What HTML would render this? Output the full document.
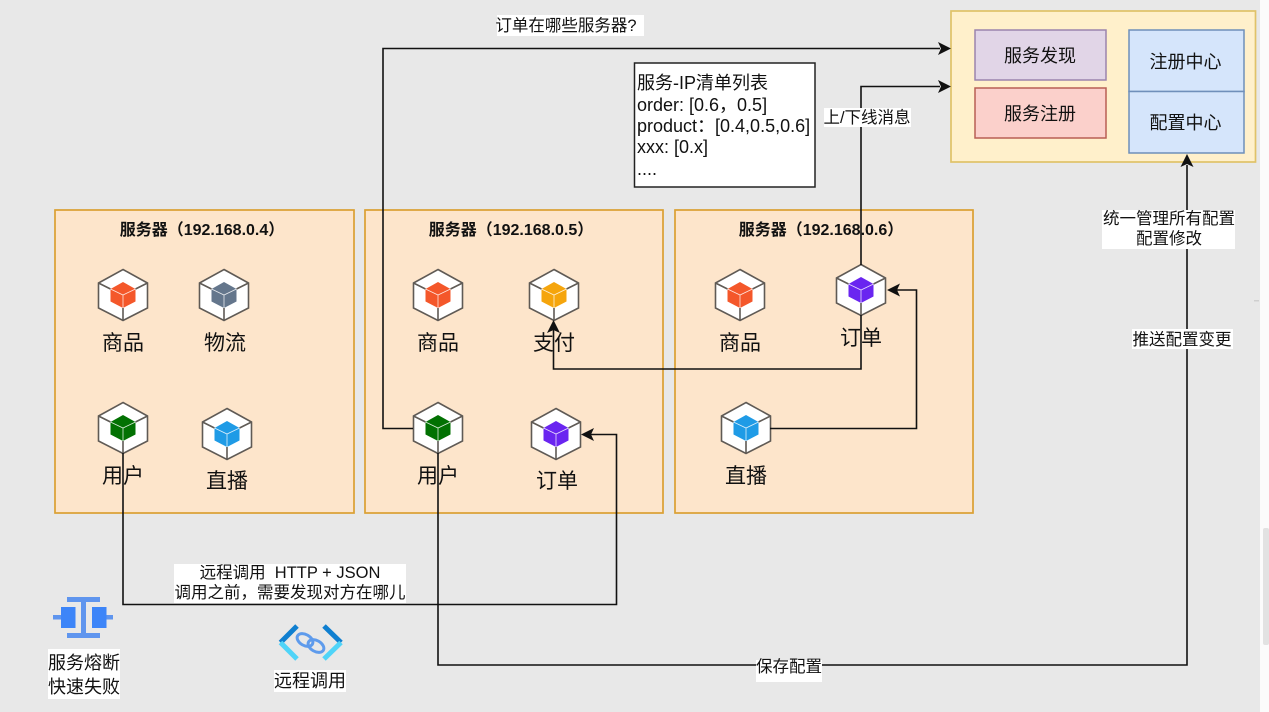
<!DOCTYPE html>
<html lang="zh">
<head>
<meta charset="utf-8">
<title>服务注册与发现</title>
<style>
html,body{margin:0;padding:0;width:1269px;height:712px;overflow:hidden;background:#e8e8e8}
svg{display:block}
text{font-family:"Liberation Sans","Noto Sans CJK SC",sans-serif;fill:#111}
.n{font-size:21px;text-anchor:middle}
.t{font-size:16px;font-weight:bold;text-anchor:middle}
.l{font-size:16.5px;text-anchor:middle}
.b{font-size:18px;text-anchor:middle}
.m{font-size:18px}
.w{fill:#fff}
.e{fill:none;stroke:#111;stroke-width:1.6}
</style>
</head>
<body>
<svg width="1269" height="712" viewBox="0 0 1269 712" xmlns="http://www.w3.org/2000/svg">
<defs>
<g id="c">
<path d="M0-25.5 24.5-12V13L0 25.5-24.5 13V-12Z" fill="#fff" stroke="#5f5a55" stroke-width="1.6"/>
<path d="M0 25.5V13M24.5-12 12.5-6M-24.5-12-12.5-6" fill="none" stroke="#5f5a55" stroke-width="1.6"/>
<path d="M0-13 12.5-6V6.5L0 13-12.5 6.5V-6Z" fill="currentColor"/>
<path d="M-12.5-6 0 0 12.5-6M0 0V13" fill="none" stroke="#fff" stroke-width="0.8" stroke-opacity="0.85"/>
</g>
</defs>

<rect width="1269" height="712" fill="#e8e8e8"/>
<rect x="1260" width="9" height="712" fill="#fbfbfb"/>
<rect x="1263" y="528" width="6" height="117" rx="2" fill="#e2e2e2"/>
<rect x="1254" y="300" width="5" height="1.5" fill="#cfcfcf"/>

<!-- server boxes -->
<rect x="55" y="210" width="299" height="303" fill="#fde5cb" stroke="#dba032" stroke-width="1.7"/>
<rect x="365" y="210" width="298" height="303" fill="#fde5cb" stroke="#dba032" stroke-width="1.7"/>
<rect x="675" y="210" width="298" height="303" fill="#fde5cb" stroke="#dba032" stroke-width="1.7"/>
<text class="t" x="202" y="235">服务器（192.168.0.4）</text>
<text class="t" x="511" y="235">服务器（192.168.0.5）</text>
<text class="t" x="821" y="235">服务器（192.168.0.6）</text>

<!-- top-right group -->
<rect x="951" y="11" width="304.500" height="151" fill="#fff0cb" stroke="#e0c268" stroke-width="1.7"/>
<rect x="975" y="30" width="131" height="50" fill="#e1d5e7" stroke="#9b84ad" stroke-width="1.5"/>
<rect x="975" y="88" width="131" height="50" fill="#fbd0cb" stroke="#b85f55" stroke-width="1.5"/>
<rect x="1129" y="30" width="115" height="61.500" fill="#d5e5fb" stroke="#6f8fba" stroke-width="1.5"/>
<rect x="1129" y="91.500" width="115" height="61.500" fill="#d5e5fb" stroke="#6f8fba" stroke-width="1.5"/>
<text class="b" x="1040" y="62">服务发现</text>
<text class="b" x="1040" y="120">服务注册</text>
<text class="b" x="1185.500" y="68">注册中心</text>
<text class="b" x="1185.500" y="129">配置中心</text>

<!-- list box -->
<rect x="634.500" y="63" width="180.500" height="124" fill="#fff" stroke="#222" stroke-width="1.5"/>
<text class="m" x="637" y="89">服务-IP清单列表</text>
<text class="m" x="637" y="111">order: [0.6，0.5]</text>
<text class="m" x="637" y="132">product：[0.4,0.5,0.6]</text>
<text class="m" x="637" y="153">xxx: [0.x]</text>
<text class="m" x="637" y="175">....</text>

<!-- cubes -->
<use href="#c" x="123" y="295" style="color:#f4572a"/>
<use href="#c" x="224" y="295" style="color:#64768c"/>
<use href="#c" x="123" y="428" style="color:#027102"/>
<use href="#c" x="227" y="434" style="color:#1f9be6"/>
<use href="#c" x="438" y="295" style="color:#f4572a"/>
<use href="#c" x="554" y="295" style="color:#f5a50d"/>
<use href="#c" x="438" y="428" style="color:#027102"/>
<use href="#c" x="556" y="434" style="color:#6a25f0"/>
<use href="#c" x="740" y="295" style="color:#f4572a"/>
<use href="#c" x="861" y="290" style="color:#6a25f0"/>
<use href="#c" x="746" y="428" style="color:#1f9be6"/>

<!-- connectors -->
<path class="e" d="M123 453V604.500H616.500V434.500H590"/>
<path class="e" d="M413 428.500H383V48.500H940"/>
<path class="e" d="M438 453V665H1187V165"/>
<path class="e" d="M861 265V86.500H940"/>
<path class="e" d="M861 315V369H553.500V330"/>
<path class="e" d="M770 428.500H916.500V290H896"/>

<!-- arrowheads -->
<g fill="#111">
<path d="M951 48.500 938 42 941 48.500 938 55Z"/>
<path d="M951 86.500 938 80 941 86.500 938 93Z"/>
<path d="M581 434.500 594 428 591 434.500 594 441Z"/>
<path d="M887 290 900 283.500 897 290 900 296.500Z"/>
<path d="M553.500 320 547 333 553.500 330 560 333Z"/>
<path d="M1187 154 1180.500 167 1187 164 1193.500 167Z"/>
</g>

<!-- node labels -->
<text class="n" x="123" y="350">商品</text>
<text class="n" x="225" y="350">物流</text>
<text class="n" x="123" y="483">用户</text>
<text class="n" x="227" y="488">直播</text>
<text class="n" x="438" y="350">商品</text>
<text class="n" x="554" y="350">支付</text>
<text class="n" x="438" y="483">用户</text>
<text class="n" x="557" y="488">订单</text>
<text class="n" x="740" y="350">商品</text>
<text class="n" x="861" y="345">订单</text>
<text class="n" x="746" y="483">直播</text>

<!-- connector labels -->
<rect class="w" x="497" y="15" width="147" height="21"/>
<text class="l" x="566" y="31">订单在哪些服务器?</text>
<rect class="w" x="824" y="108" width="87" height="19"/>
<text class="l" x="867" y="123">上/下线消息</text>
<rect class="w" x="1102" y="210" width="133" height="39"/>
<text class="l" x="1169" y="224">统一管理所有配置</text>
<text class="l" x="1169" y="244">配置修改</text>
<rect class="w" x="1132" y="329" width="101" height="20"/>
<text class="l" x="1182" y="345">推送配置变更</text>
<rect class="w" x="756" y="660" width="66" height="22"/>
<text class="l" x="789" y="672">保存配置</text>
<rect class="w" x="174" y="564" width="232" height="39"/>
<text class="l" x="290" y="578">远程调用&#160;&#160;HTTP + JSON</text>
<text class="l" x="290" y="598">调用之前，需要发现对方在哪儿</text>

<!-- circuit breaker icon -->
<g>
<rect x="67" y="597" width="33" height="5" fill="#5f95ee"/>
<rect x="67" y="633" width="33" height="5" fill="#5f95ee"/>
<rect x="81" y="602" width="5" height="31" fill="#5f95ee"/>
<rect x="53" y="615" width="8" height="4.500" fill="#5f95ee"/>
<rect x="106" y="615" width="7" height="4.500" fill="#5f95ee"/>
<rect x="61" y="607" width="14.500" height="21" fill="#3d85f8"/>
<rect x="92" y="607" width="14.500" height="21" fill="#3d85f8"/>
</g>
<rect class="w" x="48" y="649" width="72" height="50"/>
<text class="b" x="84" y="669">服务熔断</text>
<text class="b" x="84" y="693">快速失败</text>

<!-- remote call icon -->
<g fill="none" stroke-width="5">
<path d="M297 626 280.500 642.500" stroke="#0f7fd0"/>
<path d="M280.500 642.500 297 659" stroke="#4fd4f8"/>
<path d="M324 626 341 642.500" stroke="#0f7fd0"/>
<path d="M341 642.500 324 659" stroke="#4fd4f8"/>
<g stroke="#5e9bec" stroke-width="3">
<ellipse cx="305" cy="640" rx="8.500" ry="5.500" transform="rotate(30 305 640)"/>
<ellipse cx="316" cy="646" rx="8.500" ry="5.500" transform="rotate(30 316 646)"/>
</g>
</g>
<rect class="w" x="274" y="670" width="72" height="22"/>
<text class="b" x="310" y="687">远程调用</text>
</svg>
</body>
</html>
